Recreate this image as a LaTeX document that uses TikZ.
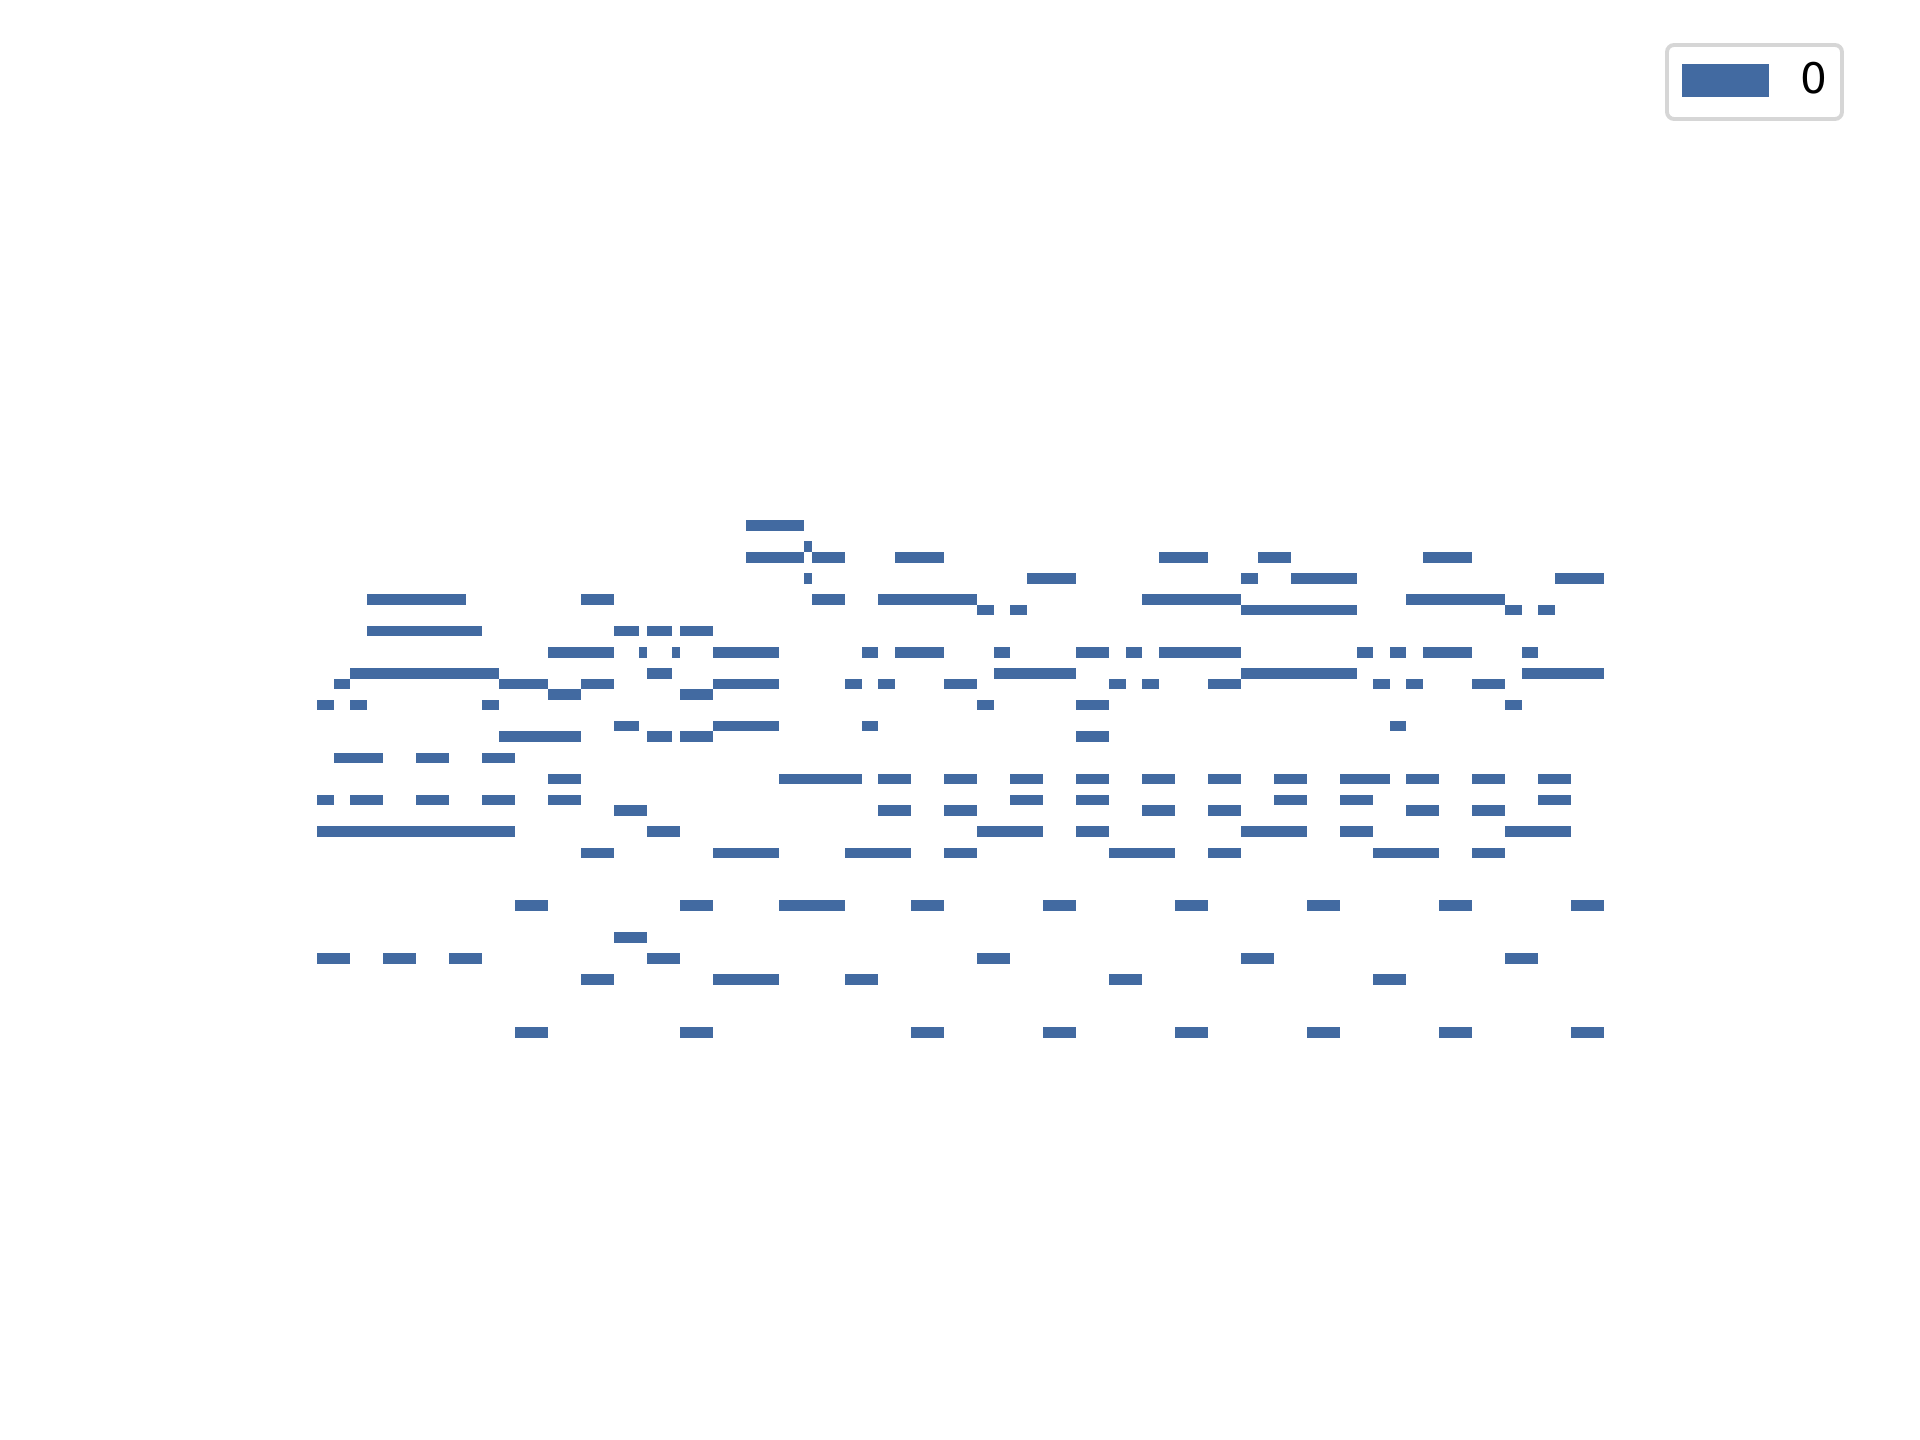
\documentclass[tikz,border=0pt]{standalone}
\usepackage{fontspec}
\setmainfont{DejaVu Sans}
\definecolor{rollblue}{RGB}{66,106,161}
\definecolor{legendgray}{RGB}{214,214,214}
\tikzset{roll/.style={fill=rollblue, draw=none}}

\begin{document}
\begin{tikzpicture}[x=0.01cm, y=-0.01cm]
\useasboundingbox (0,0) rectangle (1920,1440);

\begin{scope}[shift={(3.17cm,-5.20cm)}, x=0.1649cm, y=-0.1055cm]
\foreach \a/\b in {26/29.5} \fill[roll] (\a,0) rectangle (\b,1);
\foreach \a/\b in {29.5/30} \fill[roll] (\a,2) rectangle (\b,3);
\foreach \a/\b in {26/29.5,30/32,35/38,51/54,57/59,67/70} \fill[roll] (\a,3) rectangle (\b,4);
\foreach \a/\b in {29.5/30,43/46,56/57,59/63,75/78} \fill[roll] (\a,5) rectangle (\b,6);
\foreach \a/\b in {3/9,16/18,30/32,34/40,50/56,66/72} \fill[roll] (\a,7) rectangle (\b,8);
\foreach \a/\b in {40/41,42/43,56/63,72/73,74/75} \fill[roll] (\a,8) rectangle (\b,9);
\foreach \a/\b in {3/10,18/19.5,20/21.5,22/24} \fill[roll] (\a,10) rectangle (\b,11);
\foreach \a/\b in {14/18,19.5/20,21.5/22,24/28,33/34,35/38,41/42,46/48,49/50,51/56,63/64,65/66,67/70,73/74} \fill[roll] (\a,12) rectangle (\b,13);
\foreach \a/\b in {2/11,20/21.5,41/46,56/63,73/78} \fill[roll] (\a,14) rectangle (\b,15);
\foreach \a/\b in {1/2,11/14,16/18,24/28,32/33,34/35,38/40,48/49,50/51,54/56,64/65,66/67,70/72} \fill[roll] (\a,15) rectangle (\b,16);
\foreach \a/\b in {14/16,22/24} \fill[roll] (\a,16) rectangle (\b,17);
\foreach \a/\b in {0/1,2/3,10/11,40/41,46/48,72/73} \fill[roll] (\a,17) rectangle (\b,18);
\foreach \a/\b in {18/19.5,24/28,33/34,65/66} \fill[roll] (\a,19) rectangle (\b,20);
\foreach \a/\b in {11/16,20/21.5,22/24,46/48} \fill[roll] (\a,20) rectangle (\b,21);
\foreach \a/\b in {1/4,6/8,10/12} \fill[roll] (\a,22) rectangle (\b,23);
\foreach \a/\b in {14/16,28/33,34/36,38/40,42/44,46/48,50/52,54/56,58/60,62/65,66/68,70/72,74/76} \fill[roll] (\a,24) rectangle (\b,25);
\foreach \a/\b in {0/1,2/4,6/8,10/12,14/16,42/44,46/48,58/60,62/64,74/76} \fill[roll] (\a,26) rectangle (\b,27);
\foreach \a/\b in {18/20,34/36,38/40,50/52,54/56,66/68,70/72} \fill[roll] (\a,27) rectangle (\b,28);
\foreach \a/\b in {0/12,20/22,40/44,46/48,56/60,62/64,72/76} \fill[roll] (\a,29) rectangle (\b,30);
\foreach \a/\b in {16/18,24/28,32/36,38/40,48/52,54/56,64/68,70/72} \fill[roll] (\a,31) rectangle (\b,32);
\foreach \a/\b in {12/14,22/24,28/32,36/38,44/46,52/54,60/62,68/70,76/78} \fill[roll] (\a,36) rectangle (\b,37);
\foreach \a/\b in {18/20} \fill[roll] (\a,39) rectangle (\b,40);
\foreach \a/\b in {0/2,4/6,8/10,20/22,40/42,56/58,72/74} \fill[roll] (\a,41) rectangle (\b,42);
\foreach \a/\b in {16/18,24/28,32/34,48/50,64/66} \fill[roll] (\a,43) rectangle (\b,44);
\foreach \a/\b in {12/14,22/24,36/38,44/46,52/54,60/62,68/70,76/78} \fill[roll] (\a,48) rectangle (\b,49);
\end{scope}

\draw[legendgray, line width=1.1pt, rounded corners=0.07cm, fill=white] (1667,45) rectangle (1842,119);
\fill[roll] (1682,64) rectangle (1769,97);
\node[font=\fontsize{12}{14}\selectfont, inner sep=0pt] (label0) at (1814,78) {0};
\end{tikzpicture}
\end{document}
